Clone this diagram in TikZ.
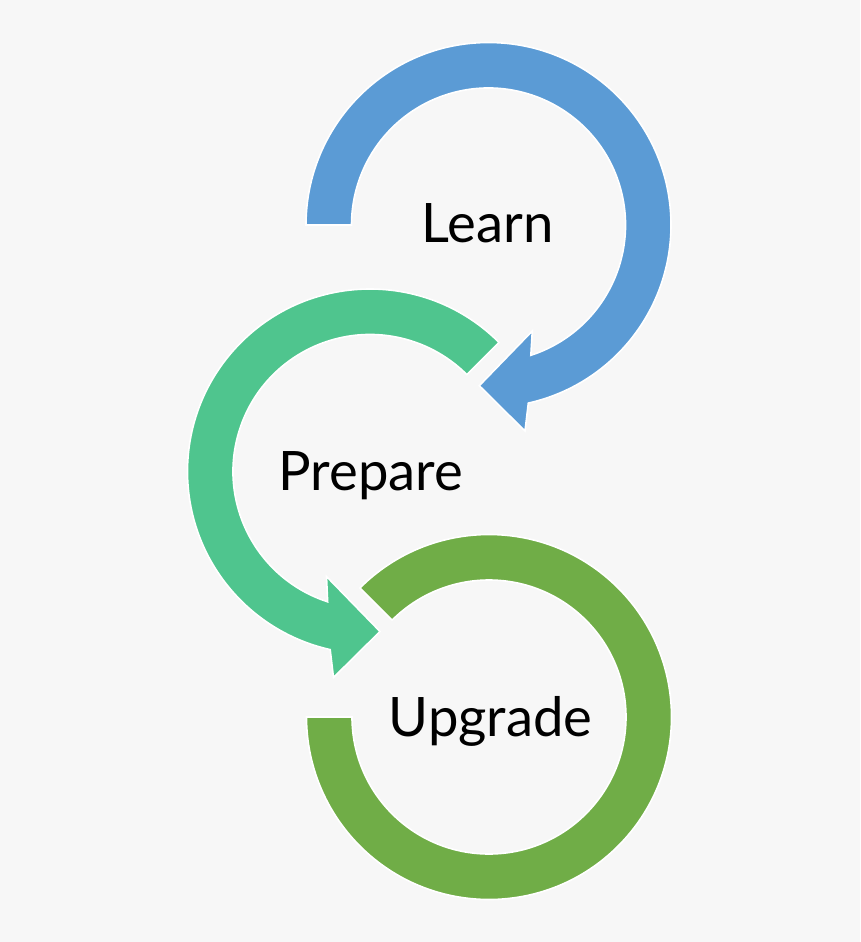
\documentclass[tikz,border=0pt]{standalone}
\usepackage{fontspec}
\setmainfont{Lato}
\definecolor{bg}{HTML}{F7F7F7}
\definecolor{cblue}{HTML}{5B9BD5}
\definecolor{cteal}{HTML}{4FC58E}
\definecolor{colive}{HTML}{70AD47}
\begin{document}
\begin{tikzpicture}[x=0.75pt,y=0.75pt,
  ring/.style={draw=white,line width=1.2pt,line join=miter},
  lbl/.style={inner sep=0pt,anchor=base,font=\fontsize{40.8}{48}\selectfont,text=black}]
\useasboundingbox (0,0) rectangle (860,-942);
\fill[bg] (0,0) rectangle (860,-942);
% blue (Learn)
\begin{scope}[shift={(488.5,-225)}]
\filldraw[ring,fill=cblue] (180:182.5) arc[start angle=180,end angle=-77.4,radius=182.5]
  -- (36.5,-206) -- (-9.2,-160.7) -- (43.8,-106) -- (-72:137)
  arc[start angle=-72,end angle=180,radius=137] -- cycle;
\end{scope}
% teal (Prepare)
\begin{scope}[shift={(370,-471.5)}]
\filldraw[ring,fill=cteal] (45:182.5) arc[start angle=45,end angle=257.4,radius=182.5]
  -- (-36.5,-206) -- (10,-160) -- (-43.5,-105) -- (252:137)
  arc[start angle=252,end angle=45,radius=137] -- cycle;
\end{scope}
% olive (Upgrade)
\begin{scope}[shift={(489,-717)}]
\filldraw[ring,fill=colive] (135:182.5) arc[start angle=135,end angle=-180,radius=182.5]
  -- (180:137) arc[start angle=-180,end angle=135,radius=137] -- cycle;
\end{scope}
\node[lbl] (learn) at (487.5,-242.3) {Learn};
\node[lbl] (prepare) at (371,-490.7) {Prepare};
\node[lbl] (upgrade) at (490.5,-736.7) {Upgrade};
\end{tikzpicture}
\end{document}
